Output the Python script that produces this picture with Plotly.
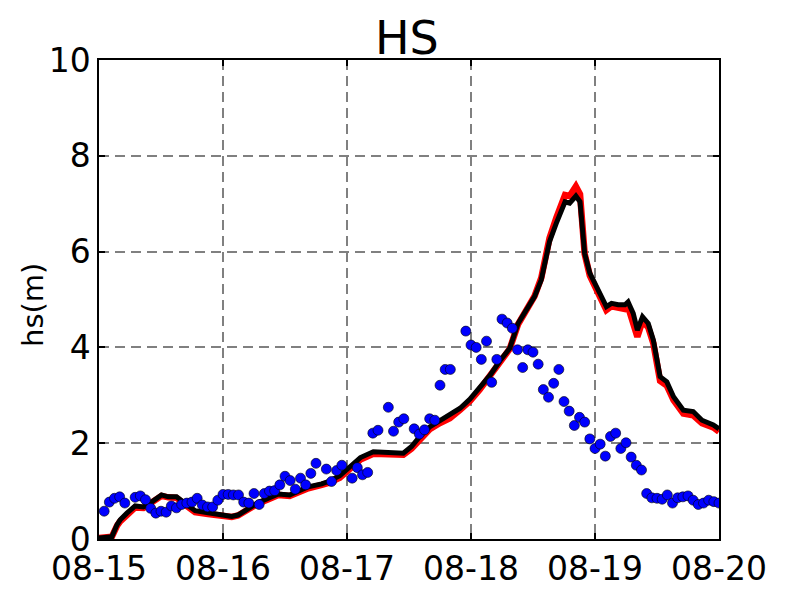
import pandas as pd
import plotly.graph_objects as go

# ---- data (hours since 08-15 00:00) ----
start_date = "2017-08-15"

obs_hours = [1, 2, 3, 4, 5, 7, 8, 9, 10, 11, 12, 13, 14, 15, 16, 17, 18, 19, 20, 21,
             22, 23, 24, 25, 26, 27, 28, 29, 30, 31, 32, 33, 34, 35, 36, 37, 38, 39, 40, 41,
             42, 44, 45, 46, 47, 49, 50, 51, 52, 53, 54, 56, 57, 58, 59, 61, 62, 63, 64, 65,
             66, 67, 68, 71, 72, 73, 74, 75, 76, 77, 78, 79, 80, 81, 82, 83, 84, 85, 86, 87,
             88, 89, 90, 91, 92, 93, 94, 95, 96, 97, 98, 99, 100, 101, 102, 103, 104, 105, 106, 107,
             108, 109, 110, 111, 112, 113, 114, 115, 116, 117, 118, 119, 120]
obs_hs = [0.58, 0.77, 0.85, 0.88, 0.75, 0.87, 0.90, 0.82, 0.64, 0.54, 0.58, 0.56, 0.69, 0.65, 0.72, 0.75, 0.77, 0.85, 0.71, 0.67,
          0.67, 0.81, 0.93, 0.93, 0.92, 0.92, 0.77, 0.75, 0.95, 0.72, 0.95, 1.00, 1.01, 1.13, 1.31, 1.22, 1.04, 1.27, 1.13, 1.37,
          1.58, 1.46, 1.20, 1.43, 1.54, 1.27, 1.49, 1.34, 1.39, 2.21, 2.27, 2.75, 2.25, 2.44, 2.51, 2.30, 2.19, 2.28, 2.51, 2.48,
          3.21, 3.54, 3.54, 4.34, 4.05, 4.00, 3.75, 4.13, 3.27, 3.75, 4.59, 4.51, 4.40, 3.95, 3.58, 3.95, 3.90, 3.65, 3.12, 2.96,
          3.25, 3.54, 2.87, 2.67, 2.37, 2.54, 2.44, 2.09, 1.89, 1.98, 1.73, 2.14, 2.21, 1.89, 2.01, 1.71, 1.54, 1.44, 0.95, 0.86,
          0.85, 0.83, 0.92, 0.75, 0.86, 0.88, 0.90, 0.81, 0.72, 0.75, 0.81, 0.78, 0.75]

model_hours = [0, 2.5, 3.5, 4.1, 5.4, 7.0, 8.6, 9.9, 12.1, 13.4, 15.0, 16.6, 18.6, 21.1, 23.7, 25.7, 26.9, 28.9,
               30.8, 32.8, 34.7, 36.9, 38.6, 40.5, 43.1, 44.4, 46.6, 48.6, 50.6, 53.1, 55.7, 58.9, 60.5, 62.1,
               64.0, 66.0, 67.9, 69.9, 71.8, 73.7, 75.7, 77.6, 79.5, 81.1, 82.7, 84.3, 85.6, 86.5, 87.2, 88.5,
               90.2, 91.1, 92.3, 93.1, 94.0, 95.0, 96.3, 97.3, 98.2, 99.2, 100.5, 101.8, 102.4, 103.4, 104.2,
               105.2, 106.3, 107.3, 107.9, 108.6, 109.9, 111.2, 113.1, 115.0, 116.7, 118.9, 120]
model_a_hs = [0.02, 0.05, 0.28, 0.37, 0.50, 0.66, 0.65, 0.73, 0.90, 0.87, 0.86, 0.72, 0.56, 0.52, 0.48, 0.46, 0.49, 0.62,
              0.74, 0.83, 0.92, 0.90, 0.97, 1.06, 1.13, 1.17, 1.28, 1.45, 1.66, 1.78, 1.76, 1.76, 1.89, 2.09,
              2.29, 2.42, 2.52, 2.70, 2.88, 3.12, 3.40, 3.70, 3.97, 4.48, 4.77, 5.07, 5.45, 5.95, 6.28, 6.70,
              7.18, 7.16, 7.36, 7.20, 5.95, 5.50, 5.22, 5.00, 4.78, 4.86, 4.82, 4.80, 4.85, 4.55, 4.22,
              4.55, 4.42, 4.08, 3.66, 3.30, 3.20, 2.90, 2.62, 2.58, 2.42, 2.33, 2.24]
model_b_hs = [0.02, 0.05, 0.30, 0.40, 0.54, 0.69, 0.67, 0.75, 0.92, 0.88, 0.88, 0.75, 0.59, 0.55, 0.50, 0.47, 0.50, 0.64,
              0.76, 0.85, 0.94, 0.92, 0.99, 1.09, 1.15, 1.20, 1.32, 1.50, 1.70, 1.82, 1.80, 1.79, 1.93, 2.14,
              2.34, 2.47, 2.57, 2.73, 2.92, 3.15, 3.42, 3.72, 3.98, 4.50, 4.78, 5.06, 5.41, 5.89, 6.21, 6.59,
              7.04, 7.01, 7.16, 7.04, 5.96, 5.55, 5.27, 5.06, 4.85, 4.92, 4.89, 4.89, 4.95, 4.71, 4.36,
              4.64, 4.50, 4.15, 3.74, 3.39, 3.28, 2.97, 2.69, 2.66, 2.48, 2.38, 2.30]

y_ticks = [0, 2, 4, 6, 8, 10]
title_text = "HS"
y_title = "hs(m)"

# ---- build ----
base = pd.Timestamp(start_date)
obs_t = base + pd.to_timedelta(obs_hours, unit="h")
mod_t = base + pd.to_timedelta(model_hours, unit="h")

fig = go.Figure()
fig.add_trace(go.Scatter(x=mod_t, y=model_a_hs, mode="lines",
                         line=dict(color="#ff0000", width=6.5), showlegend=False))
fig.add_trace(go.Scatter(x=mod_t, y=model_b_hs, mode="lines",
                         line=dict(color="#000000", width=5), showlegend=False))
fig.add_trace(go.Scatter(x=obs_t, y=obs_hs, mode="markers",
                         marker=dict(color="#0000ff", size=10, line=dict(color="#000000", width=0.6)),
                         showlegend=False))

font = "DejaVu Sans"
# page renders with an 8px body offset; margins compensate
fig.update_layout(
    width=800, height=600,
    margin=dict(l=91, r=89, t=52, b=69),
    paper_bgcolor="white", plot_bgcolor="white",
    font=dict(family=font, size=33, color="black"),
    title=dict(text=title_text, x=0.4985, xanchor="center", y=1 - 30 / 600, yanchor="middle",
               font=dict(family=font, size=46, color="black")),
    annotations=[dict(text=y_title, textangle=-90, xref="paper", yref="paper",
                      x=-0.1065, y=0.4885, xanchor="center", yanchor="middle",
                      showarrow=False, font=dict(family=font, size=29, color="black"))],
)
fig.update_xaxes(
    type="date",
    range=[base, base + pd.Timedelta(days=5)],
    dtick=86400000, tickformat="%m-%d",
    showgrid=True, gridcolor="#808080", gridwidth=2, griddash="10px,6px",
    showline=True, linecolor="black", linewidth=1.5, mirror="allticks",
    ticks="inside", ticklen=6, tickcolor="black", tickwidth=1.5,
    zeroline=False, tickfont=dict(family=font, size=33),
)
fig.update_yaxes(
    range=[0, 10], tickvals=y_ticks,
    showgrid=True, gridcolor="#808080", gridwidth=2, griddash="10px,6px",
    showline=True, linecolor="black", linewidth=1.5, mirror="allticks",
    ticks="inside", ticklen=6, tickcolor="black", tickwidth=1.5,
    zeroline=False, tickfont=dict(family=font, size=33),
)

fig.write_html("out.html")
